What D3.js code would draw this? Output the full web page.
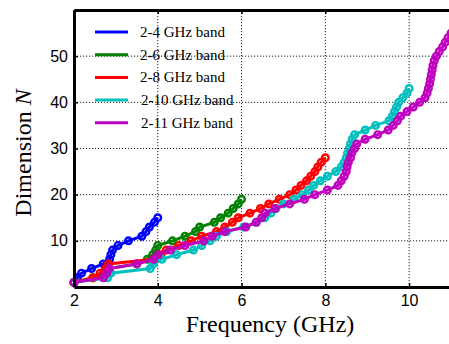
<!DOCTYPE html>
<html>
<head>
<meta charset="utf-8">
<script src="https://cdn.jsdelivr.net/npm/d3@7"></script>
<style>
  body { margin: 0; background: #fff; }
  svg { display: block; }
</style>
</head>
<body>
<svg id="chart"></svg>
<script>
// frequencies (GHz) where dimension N reaches 1, 2, 3, ... for each band
var band2to4 = [2.0, 2.08, 2.18, 2.42, 2.7, 2.85, 2.88, 2.92, 3.05, 3.3, 3.62, 3.72, 3.8, 3.92, 4.0]
var band2to6 = [2.0, 2.45, 2.72, 2.82, 3.5, 3.75, 3.88, 3.95, 4.0, 4.35, 4.65, 4.9, 5.0, 5.35,
  5.5, 5.68, 5.8, 5.92, 6.0]
var band2to8 = [2.0, 2.45, 2.62, 2.75, 2.82, 3.9, 4.08, 4.2, 4.5, 4.8, 5.05, 5.4, 5.6, 5.78,
  5.92, 6.2, 6.45, 6.65, 6.9, 7.15, 7.3, 7.42, 7.55, 7.65, 7.75, 7.82, 7.9, 8.0]
var band2to10 = [2.0, 2.8, 2.88, 3.82, 3.9, 4.1, 4.45, 4.85, 5.05, 5.25, 5.4, 5.65, 6.05, 6.35,
  6.55, 6.7, 6.82, 7.0, 7.25, 7.45, 7.6, 7.72, 7.88, 8.05, 8.25, 8.38, 8.45, 8.5, 8.53, 8.57,
  8.6, 8.64, 8.7, 8.95, 9.2, 9.52, 9.6, 9.65, 9.7, 9.75, 9.85, 9.95, 10.0]
var band2to11 = [2.0, 2.7, 2.78, 2.84, 3.5, 3.9, 4.0, 4.3, 4.65, 5.1, 5.3, 5.6, 6.1, 6.35,
  6.48, 6.56, 6.8, 7.15, 7.5, 7.75, 8.05, 8.3, 8.38, 8.45, 8.5, 8.52, 8.55, 8.6, 8.63, 8.7,
  8.75, 8.95, 9.25, 9.5, 9.62, 9.72, 9.8, 9.95, 10.1, 10.25, 10.38, 10.43, 10.46, 10.49, 10.51,
  10.53, 10.55, 10.57, 10.6, 10.65, 10.72, 10.8, 10.86, 10.93, 11.0]

var seriesNames = ['2-4 GHz band', '2-6 GHz band', '2-8 GHz band', '2-10 GHz band', '2-11 GHz band']
var seriesColors = ['#0000ff', '#008000', '#ff0000', '#00bfbf', '#bf00bf']
var xTicks = [2, 4, 6, 8, 10]
var yTicks = [10, 20, 30, 40, 50]

var outerWidth = 449, outerHeight = 344
var margins = {top: 10, right: -2, bottom: 57, left: 74}
var innerWidth = outerWidth - margins.left - margins.right
var innerHeight = outerHeight - margins.top - margins.bottom

var svg = d3.select('svg#chart')
    .attr('width', outerWidth)
    .attr('height', outerHeight)

var plot = svg.append('g')
    .attr('transform', 'translate(' + margins.left + ',' + margins.top + ')')

var xScale = d3.scaleLinear().domain([2, 11]).range([0, innerWidth])
var yScale = d3.scaleLinear().domain([0, 60]).range([innerHeight, 0])

// dotted grid
plot.append('g')
    .selectAll('line')
    .data(xTicks)
    .join('line')
    .attr('x1', d => xScale(d)).attr('x2', d => xScale(d))
    .attr('y1', 0).attr('y2', innerHeight)
    .attr('stroke', '#222').attr('stroke-width', 1)
    .attr('stroke-dasharray', '1.2,1.8')

plot.append('g')
    .selectAll('line')
    .data(yTicks)
    .join('line')
    .attr('x1', 0).attr('x2', innerWidth)
    .attr('y1', d => yScale(d)).attr('y2', d => yScale(d))
    .attr('stroke', '#222').attr('stroke-width', 1)
    .attr('stroke-dasharray', '1.2,1.8')

// series
var allSeries = [band2to4, band2to6, band2to8, band2to10, band2to11]
var line = d3.line()
    .x(d => xScale(d[0]))
    .y(d => yScale(d[1]))

var clip = svg.append('clipPath').attr('id', 'clip')
clip.append('rect').attr('x', -6).attr('y', -6).attr('width', innerWidth + 6).attr('height', innerHeight + 12)

var dataLayer = plot.append('g').attr('clip-path', 'url(#clip)')

allSeries.forEach(function(freqs, i) {
    var pts = freqs.map((f, k) => [f, k + 1])
    var g = dataLayer.append('g')
    g.append('path')
        .datum(pts)
        .attr('d', line)
        .attr('fill', 'none')
        .attr('stroke', seriesColors[i])
        .attr('stroke-width', 3)
    g.selectAll('circle')
        .data(pts)
        .join('circle')
        .attr('cx', d => xScale(d[0]))
        .attr('cy', d => yScale(d[1]))
        .attr('r', 3.3)
        .attr('fill', 'none')
        .attr('stroke', seriesColors[i])
        .attr('stroke-width', 2.4)
})

// axes
var xAxis = d3.axisBottom(xScale).tickValues(xTicks).tickSizeInner(-4).tickSizeOuter(0).tickPadding(8)
var yAxis = d3.axisLeft(yScale).tickValues(yTicks).tickSizeInner(-4).tickSizeOuter(0).tickPadding(6)

var gx = plot.append('g')
    .attr('transform', 'translate(0,' + innerHeight + ')')
    .call(xAxis)
var gy = plot.append('g').call(yAxis)

var gTop = plot.append('g').call(d3.axisTop(xScale).tickValues(xTicks).tickSizeInner(-4).tickSizeOuter(0))
gTop.selectAll('.tick text').remove()

;[gx, gy, gTop].forEach(function(g) {
    g.select('.domain').attr('stroke', '#000').attr('stroke-width', 3)
    g.selectAll('.tick line').attr('stroke', '#000').attr('stroke-width', 1.5)
    g.selectAll('.tick text')
        .attr('fill', '#000')
        .style('font-family', '"Liberation Sans", Arial, sans-serif')
        .style('font-size', '16px')
})

// axis titles
svg.append('text')
    .attr('x', 270)
    .attr('y', 332)
    .attr('text-anchor', 'middle')
    .attr('font-family', 'Liberation Serif, Times New Roman, serif')
    .attr('font-size', 24)
    .text('Frequency (GHz)')

var yTitle = svg.append('text')
    .attr('text-anchor', 'middle')
    .attr('transform', 'translate(31,153) rotate(-90)')
    .attr('font-family', 'Liberation Serif, Times New Roman, serif')
    .attr('font-size', 24)
yTitle.append('tspan').text('Dimension ')
yTitle.append('tspan').style('font-style', 'italic').text('N')

// legend
var legend = svg.append('g')
seriesNames.forEach(function(name, i) {
    var yy = 32 + i * 22.7
    legend.append('line')
        .attr('x1', 95).attr('x2', 128)
        .attr('y1', yy).attr('y2', yy)
        .attr('stroke', seriesColors[i])
        .attr('stroke-width', 3)
    legend.append('text')
        .attr('x', i >= 3 ? 141 : 140)
        .attr('y', yy + 5)
        .attr('font-family', 'Liberation Serif, Times New Roman, serif')
        .attr('font-size', 15)
        .text(name)
})
</script>
</body>
</html>
